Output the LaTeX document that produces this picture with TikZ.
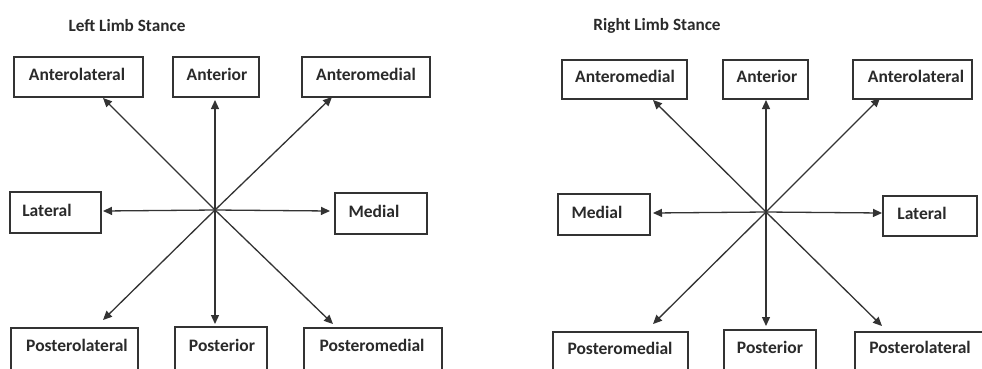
\documentclass[tikz,border=0pt]{standalone}
\usepackage{fontspec}
\setmainfont{Carlito}
\usetikzlibrary{arrows.meta}
\definecolor{ink}{HTML}{333333}
\definecolor{txt}{HTML}{2A2A2A}
\begin{document}
\begin{tikzpicture}[x=1pt,y=-1pt,
  dirbox/.style={draw=ink,line width=1.5pt,rectangle,inner sep=0pt,fill=white},
  dirtext/.style={text=txt,font=\bfseries\fontsize{17.5}{20}\selectfont,inner sep=0pt,anchor=center},
  heading/.style={text=txt,font=\bfseries\fontsize{17.2}{19}\selectfont,inner sep=0pt,anchor=center},
  ray/.style={draw=ink,line width=1.3pt,-{Triangle[length=9pt,width=8pt]}}]
\useasboundingbox (0,0) rectangle (982,368);
\clip (0,0) rectangle (982,368);
\fill[white] (0,0) rectangle (982,368);

% ---------- Left limb stance ----------
\node[heading] (Ltitle) at (127,26) {Left Limb Stance};

\node[dirbox,minimum width=129pt,minimum height=40pt] (LAL) at (78.5,77) {};
\node[dirbox,minimum width=86pt,minimum height=40pt]  (LA)  at (216,77) {};
\node[dirbox,minimum width=128pt,minimum height=40pt] (LAM) at (366,77) {};
\node[dirbox,minimum width=91pt,minimum height=41pt]  (LL)  at (55.5,212.5) {};
\node[dirbox,minimum width=92pt,minimum height=41pt]  (LM)  at (381,213.5) {};
\node[dirbox,minimum width=127pt,minimum height=52pt] (LPL) at (74.5,354) {};
\node[dirbox,minimum width=92pt,minimum height=53pt]  (LP)  at (221,353.5) {};
\node[dirbox,minimum width=138pt,minimum height=52pt] (LPM) at (373,354) {};

\node[dirtext] (tLAL) at (77,74)  {Anterolateral};
\node[dirtext] (tLA)  at (217,74) {Anterior};
\node[dirtext] (tLAM) at (366,74) {Anteromedial};
\node[dirtext] (tLL)  at (47,210) {Lateral};
\node[dirtext] (tLM)  at (374,211) {Medial};
\node[dirtext] (tLPL) at (77,345) {Posterolateral};
\node[dirtext] (tLP)  at (222,345) {Posterior};
\node[dirtext] (tLPM) at (372,345) {Posteromedial};

\coordinate (Lc) at (215,210);
\coordinate (LhAL) at (103,98);
\coordinate (LhA)  at (215,100);
\coordinate (LhAM) at (332,97);
\coordinate (LhL)  at (103,211);
\coordinate (LhM)  at (330,211);
\coordinate (LhPL) at (103,320);
\coordinate (LhP)  at (215,324);
\coordinate (LhPM) at (333,324);

\foreach \t in {AL,A,AM,L,M,PL,P,PM}
  \draw[ray] (Lc) -- (Lh\t);

% ---------- Right limb stance ----------
\node[heading] (Rtitle) at (657,26) {Right Limb Stance};

\node[dirbox,minimum width=125pt,minimum height=39pt] (RAM) at (624.5,79.5) {};
\node[dirbox,minimum width=85pt,minimum height=39pt]  (RA)  at (765.5,79.5) {};
\node[dirbox,minimum width=119pt,minimum height=39pt] (RAL) at (912.5,79.5) {};
\node[dirbox,minimum width=92pt,minimum height=41pt]  (RM)  at (604,214.5) {};
\node[dirbox,minimum width=94pt,minimum height=40pt]  (RL)  at (930,216) {};
\node[dirbox,minimum width=135pt,minimum height=48pt] (RPM) at (620.5,356) {};
\node[dirbox,minimum width=92pt,minimum height=50pt]  (RP)  at (770,355) {};
\node[dirbox,minimum width=135pt,minimum height=48pt] (RPL) at (922.5,356) {};

\node[dirtext] (tRAM) at (625,76)  {Anteromedial};
\node[dirtext] (tRA)  at (767,76)  {Anterior};
\node[dirtext] (tRAL) at (916,76)  {Anterolateral};
\node[dirtext] (tRM)  at (597,212) {Medial};
\node[dirtext] (tRL)  at (922,213) {Lateral};
\node[dirtext] (tRPM) at (620,348) {Posteromedial};
\node[dirtext] (tRP)  at (770,347) {Posterior};
\node[dirtext] (tRPL) at (920,347) {Posterolateral};

\coordinate (Rc) at (766,212);
\coordinate (RhAM) at (653,100);
\coordinate (RhA)  at (766,100);
\coordinate (RhAL) at (880,98);
\coordinate (RhM)  at (653,213);
\coordinate (RhL)  at (882,213);
\coordinate (RhPM) at (653,324);
\coordinate (RhP)  at (766,326);
\coordinate (RhPL) at (882,326);

\foreach \t in {AM,A,AL,M,L,PM,P,PL}
  \draw[ray] (Rc) -- (Rh\t);
\end{tikzpicture}
\end{document}
